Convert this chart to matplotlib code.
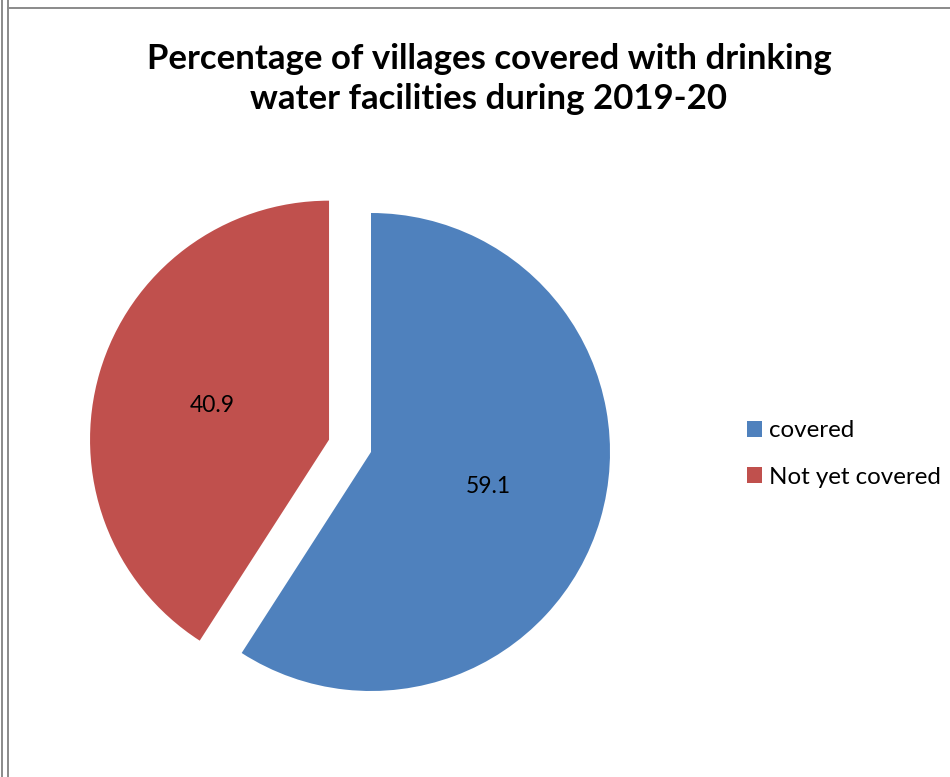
#!/usr/bin/env python3
import matplotlib
matplotlib.use('Agg')
import matplotlib.pyplot as plt
from matplotlib.patches import Patch
from matplotlib.lines import Line2D

labels = ['covered', 'Not yet covered']
values = [59.1, 40.9]
colors = ['#4F81BD', '#C0504D']
explode = [0.0, 0.183]

title = 'Percentage of villages covered with drinking\nwater facilities during 2019-20'

plt.rcParams['font.family'] = ['Lato', 'DejaVu Sans']

W, H = 950, 777
fig = plt.figure(figsize=(W / 100, H / 100), dpi=100)
fig.patch.set_facecolor('white')

# pie axes: 600x600 px box, pie radius 239 px
R = 239.0
cx, cy = 371, 452
half = 300
ax = fig.add_axes([(cx - half) / W, (H - cy - half) / H, 2 * half / W, 2 * half / H])
wedges, texts, autotexts = ax.pie(
    values, colors=colors, explode=explode, startangle=90, counterclock=False,
    autopct=lambda p: '%.1f' % p, pctdistance=0.51,
    wedgeprops=dict(linewidth=0),
    textprops=dict(fontsize=16.5, color='black'))
lim = half / R
ax.set_xlim(-lim, lim)
ax.set_ylim(-lim, lim)
ax.set_aspect('equal')
ax.axis('off')

fig.text(489 / W, 1 - 79 / H, title, ha='center', va='center',
         fontsize=25, fontweight='bold', linespacing=1.28)

handles = [Patch(facecolor=c, edgecolor='none') for c in colors]
fig.legend(handles, labels, loc='center left',
           bbox_to_anchor=(747 / W, 1 - 454 / H), frameon=False,
           fontsize=17.4, handlelength=0.62, handleheight=0.62,
           handletextpad=0.3, labelspacing=1.04, borderpad=0,
           borderaxespad=0)

# double rule on the left and single rule at the top
for x in (2, 8):
    fig.add_artist(Line2D([x / W, x / W], [0, 1], transform=fig.transFigure,
                          color='#8a8a8a', linewidth=1.4))
fig.add_artist(Line2D([8 / W, 1], [1 - 8 / H, 1 - 8 / H], transform=fig.transFigure,
                      color='#8a8a8a', linewidth=1.4))

fig.savefig('out.png', dpi=100, facecolor='white')
